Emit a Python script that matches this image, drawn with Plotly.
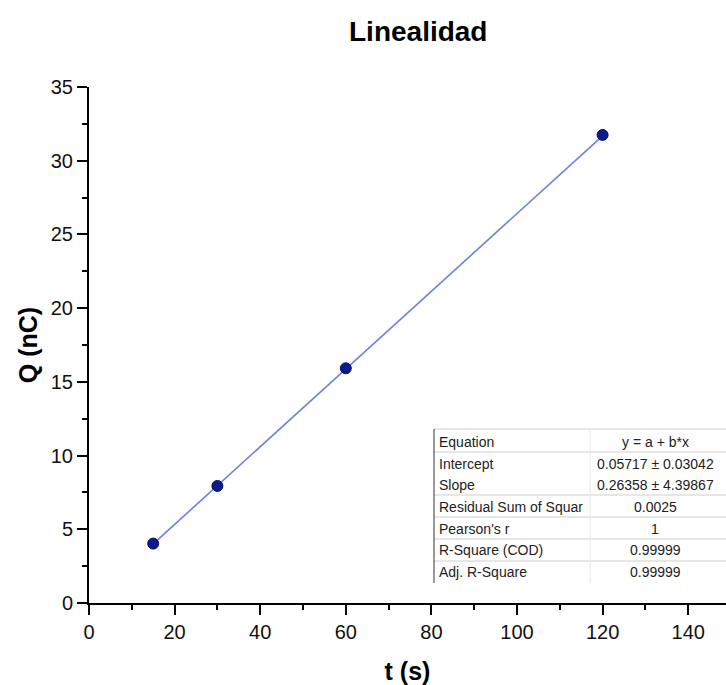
import plotly.graph_objects as go

# ---- data ----
t_s = [15, 30, 60, 120]
Q_nC = [4.03, 7.94, 15.92, 31.75]
fit_intercept = 0.05717
fit_slope = 0.26358
table_labels = ["Equation", "Intercept", "Slope", "Residual Sum of Squar",
                "Pearson's r", "R-Square (COD)", "Adj. R-Square"]
table_values = ["y = a + b*x", "0.05717 ± 0.03042", "0.26358 ± 4.39867",
                "0.0025", "1", "0.99999", "0.99999"]

# ---- layout geometry (pixels) ----
W, H = 726, 685
L, R, T, B = 89, 0, 87, 82
PW, PH = W - L - R, H - T - B

def px(x):
    return (x - L) / PW

def py(y):
    return (H - B - y) / PH

fit_x = [min(t_s), max(t_s)]
fit_y = [fit_intercept + fit_slope * v for v in fit_x]

fig = go.Figure()
fig.add_trace(go.Scatter(x=fit_x, y=fit_y, mode="lines",
                         line=dict(color="#6f80d6", width=1.6),
                         hoverinfo="skip", showlegend=False))
fig.add_trace(go.Scatter(x=t_s, y=Q_nC, mode="markers",
                         marker=dict(size=11, color="#0b1a8c",
                                     line=dict(color="#07105e", width=1)),
                         showlegend=False))

font_family = "Liberation Sans, Arial, sans-serif"

fig.update_layout(
    width=W, height=H,
    margin=dict(l=L, r=R, t=T, b=B, pad=0),
    paper_bgcolor="white", plot_bgcolor="white",
    font=dict(family=font_family, color="black"),
    showlegend=False,
)

fig.update_xaxes(
    range=[0, PW / 4.28], showgrid=False, zeroline=False,
    showline=True, linecolor="black", linewidth=2,
    ticks="outside", ticklen=10, tickwidth=2, tickcolor="black",
    tick0=0, dtick=20, tickfont=dict(size=20, family=font_family, color="#111111"),
    minor=dict(ticks="outside", ticklen=5, tickwidth=2, tickcolor="black", dtick=10),
    title=dict(text="<b>t (s)</b>", font=dict(size=25, family=font_family), standoff=20),
)
fig.update_yaxes(
    range=[0, 35], showgrid=False, zeroline=False,
    showline=True, linecolor="black", linewidth=2,
    ticks="outside", ticklen=10, tickwidth=2, tickcolor="black",
    tick0=0, dtick=5, tickfont=dict(size=20, family=font_family, color="#111111"),
    minor=dict(ticks="outside", ticklen=5, tickwidth=2, tickcolor="black", dtick=2.5),
    title=dict(text="<b>Q (nC)</b>", font=dict(size=25, family=font_family), standoff=6),
)

# title
fig.add_annotation(text="<b>Linealidad</b>", xref="paper", yref="paper",
                   x=px(418), y=py(31), showarrow=False,
                   font=dict(size=28, family=font_family, color="black"),
                   xanchor="center", yanchor="middle")

# ---- fit results table ----
tbl_left, tbl_top, tbl_bottom, tbl_div, tbl_right = 434, 429, 583, 590, 726
row_centers = [441.5, 463.5, 485, 507, 528.5, 549.5, 571.5]
hlines = [429, 452, 495, 517, 539, 561]

shapes = []
for yy in hlines:
    shapes.append(dict(type="line", xref="paper", yref="paper",
                       x0=px(tbl_left), x1=px(tbl_right), y0=py(yy), y1=py(yy),
                       line=dict(color="#cfcfcf", width=1)))
shapes.append(dict(type="line", xref="paper", yref="paper",
                   x0=px(tbl_div), x1=px(tbl_div), y0=py(tbl_top), y1=py(tbl_bottom),
                   line=dict(color="#e6e6e6", width=1)))
shapes.append(dict(type="line", xref="paper", yref="paper",
                   x0=px(tbl_left), x1=px(tbl_left), y0=py(tbl_top), y1=py(tbl_bottom),
                   line=dict(color="#333333", width=1)))
fig.update_layout(shapes=shapes)

for lab, val, yc in zip(table_labels, table_values, row_centers):
    fig.add_annotation(text=lab, xref="paper", yref="paper",
                       x=px(tbl_left + 3), y=py(yc), showarrow=False,
                       xanchor="left", yanchor="middle",
                       font=dict(size=14, family=font_family, color="#222222"))
    fig.add_annotation(text=val, xref="paper", yref="paper",
                       x=px(655), y=py(yc), showarrow=False,
                       xanchor="center", yanchor="middle",
                       font=dict(size=14, family=font_family, color="#222222"))

fig.write_html("out.html")
